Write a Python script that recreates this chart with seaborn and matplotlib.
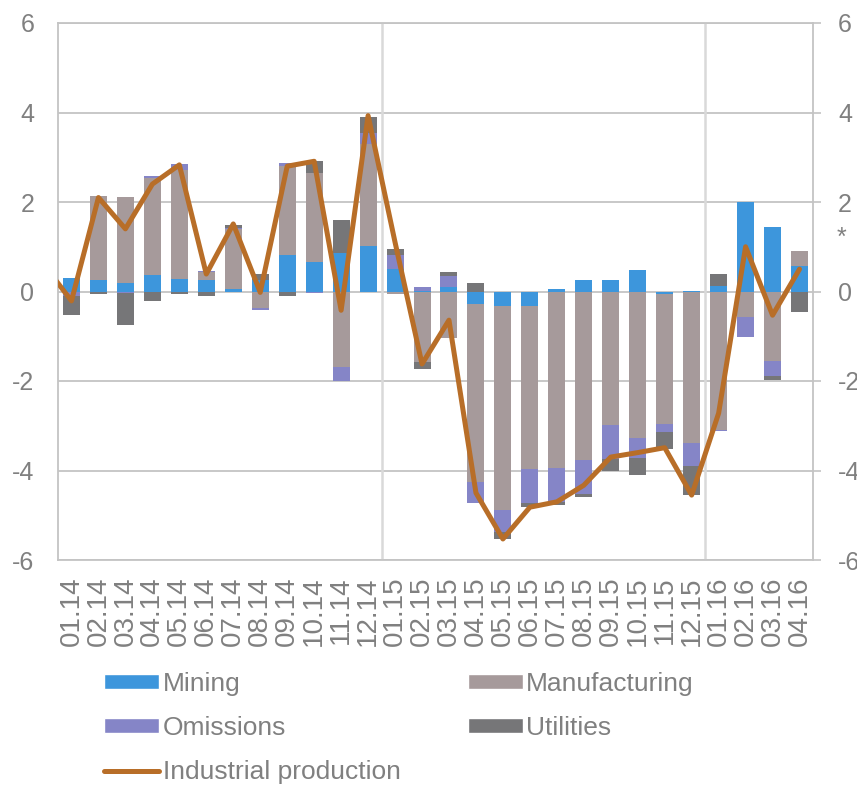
import numpy as np
import pandas as pd
import seaborn as sns
import matplotlib.pyplot as plt
from matplotlib.patches import Patch
from matplotlib.lines import Line2D

sns.set_theme(style="white")
plt.rcParams["font.family"] = ["Liberation Sans", "DejaVu Sans"]
plt.rcParams["axes.unicode_minus"] = False

# Monthly contributions to industrial production growth, p.p.
months = ["01.14", "02.14", "03.14", "04.14", "05.14", "06.14", "07.14",
          "08.14", "09.14", "10.14", "11.14", "12.14", "01.15", "02.15",
          "03.15", "04.15", "05.15", "06.15", "07.15", "08.15", "09.15",
          "10.15", "11.15", "12.15", "01.16", "02.16", "03.16", "04.16"]

mining = [0.30, 0.26, 0.20, 0.37, 0.29, 0.26, 0.05, 0.26, 0.82, 0.65,
          0.86, 1.02, 0.50, 0.02, 0.11, -0.28, -0.32, -0.32, 0.06, 0.26,
          0.26, 0.48, -0.05, 0.02, 0.12, 1.99, 1.45, 0.57]
manufacturing = [-0.02, 1.88, 1.92, 2.16, 2.43, 0.18, 1.35, -0.36, 1.99, 1.99,
                 -1.68, 2.28, -0.06, -1.57, -1.05, -3.97, -4.57, -3.64, -3.94, -3.77,
                 -2.99, -3.27, -2.92, -3.38, -3.10, -0.56, -1.55, 0.34]
omissions = [-0.09, 0.00, -0.03, 0.06, 0.13, 0.02, 0.02, -0.05, 0.07, -0.04,
             -0.33, 0.24, 0.32, 0.08, 0.24, -0.47, -0.48, -0.76, -0.76, -0.76,
             -0.76, -0.46, -0.18, -0.52, -0.02, -0.45, -0.34, 0.00]
utilities = [-0.41, -0.06, -0.72, -0.21, -0.06, -0.10, 0.07, 0.13, -0.10, 0.28,
             0.74, 0.37, 0.13, -0.17, 0.08, 0.18, -0.16, -0.10, -0.08, -0.06,
             -0.25, -0.37, -0.36, -0.65, 0.27, 0.00, -0.09, -0.45]

# Industrial production, y/y %; series starts one month earlier (12.13)
ip_months = ["12.13"] + months
industrial = [0.58, -0.21, 2.10, 1.40, 2.40, 2.83, 0.39, 1.51, -0.02, 2.80,
              2.91, -0.42, 3.93, 1.10, -1.62, -0.64, -4.50, -5.53, -4.82, -4.70,
              -4.33, -3.70, -3.60, -3.49, -4.55, -2.72, 1.00, -0.53, 0.50]

ytick_values = [-6, -4, -2, 0, 2, 4, 6]
ytick_labels = ["-6", "-4", "-2", "0", "2", "4", "6"]

series_names = ["Mining", "Manufacturing", "Omissions", "Utilities"]
series_colors = ["#3d96dc", "#a69a9b", "#8585c7", "#767678"]
line_color = "#b86e28"
text_gray = "#808080"
grid_gray = "#c4c4c4"

fig = plt.figure(figsize=(8.57, 7.85), dpi=100)
ax = fig.add_axes([58 / 857, 1 - 560 / 785, (813 - 58) / 857, (560 - 23) / 785])

pos_base = np.zeros(len(months))
neg_base = np.zeros(len(months))
for name, vals, col in zip(series_names,
                           [mining, manufacturing, omissions, utilities],
                           series_colors):
    v = np.asarray(vals, dtype=float)
    pos = np.where(v > 0, v, 0.0)
    neg = np.where(v < 0, v, 0.0)
    for part, base in ((pos, pos_base), (neg, neg_base)):
        df = pd.DataFrame({"month": months, "value": part})
        sns.barplot(data=df, x="month", y="value", order=months, ax=ax,
                    color=col, saturation=1, width=0.63, errorbar=None,
                    bottom=base.copy(), linewidth=0, zorder=2)
    pos_base += pos
    neg_base += neg

sns.lineplot(x=np.arange(-1, len(months)), y=industrial, ax=ax,
             color=line_color, linewidth=3.6, zorder=4,
             solid_joinstyle="round", solid_capstyle="round")

ax.set_xlim(-0.5, len(months) - 0.5)
ax.set_ylim(-6, 6)
ax.set_xlabel("")
ax.set_ylabel("")
ax.set_axisbelow(True)
ax.yaxis.grid(True, color=grid_gray, linewidth=1.3)
ax.xaxis.grid(False)
for xv in (11.5, 23.5):
    ax.axvline(xv, color="#d9d9d9", linewidth=1.8, zorder=1)

ax.set_xticks(range(len(months)))
ax.set_xticklabels(months, rotation=90, fontsize=20, color=text_gray)
ax.set_yticks(ytick_values)
ax.set_yticklabels(ytick_labels, fontsize=18, color=text_gray)
ax.tick_params(axis="x", length=0, pad=12)
ax.tick_params(axis="y", length=0, pad=17)
for sp in ax.spines.values():
    sp.set_visible(True)
    sp.set_color(grid_gray)
    sp.set_linewidth(1.3)

ax2 = ax.twinx()
ax2.set_ylim(-6, 6)
ax2.set_yticks(ytick_values)
ax2.set_yticklabels(ytick_labels, fontsize=18, color=text_gray)
ax2.tick_params(axis="y", direction="out", length=6, width=1.2,
                color=grid_gray, pad=12)
for sp in ax2.spines.values():
    sp.set_visible(False)
ax2.grid(False)

fig.text(837 / 857, 1 - 245 / 785, "*", fontsize=18, color=text_gray,
         ha="left", va="baseline")

handles = [
    Patch(facecolor=series_colors[0], label="Mining"),
    Patch(facecolor=series_colors[2], label="Omissions"),
    Line2D([0], [0], color=line_color, linewidth=3.6, label="Industrial production"),
    Patch(facecolor=series_colors[1], label="Manufacturing"),
    Patch(facecolor=series_colors[3], label="Utilities"),
]
fig.legend(handles=handles, loc="upper left",
           bbox_to_anchor=(104 / 857, 1 - 672 / 785), ncol=2, frameon=False,
           fontsize=19, labelcolor=text_gray, handlelength=2.1,
           handleheight=0.5, handletextpad=0.12, columnspacing=2.55,
           labelspacing=0.76, borderpad=0, borderaxespad=0)

fig.savefig("out.png", dpi=100)
